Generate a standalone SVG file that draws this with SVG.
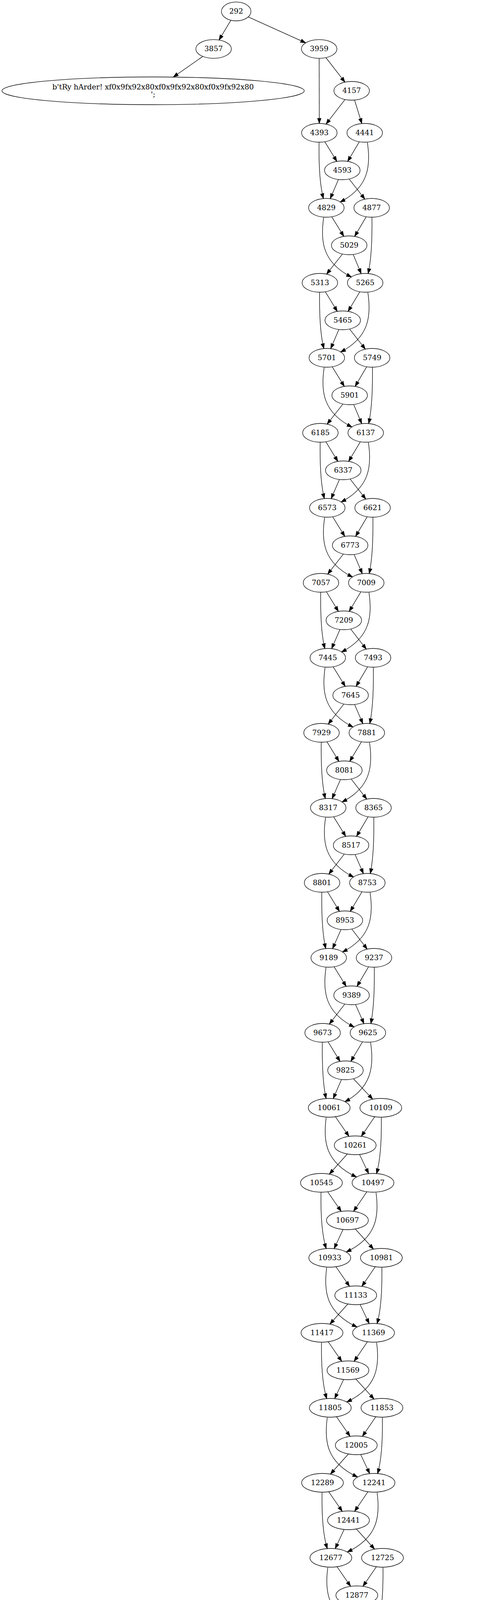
<svg xmlns="http://www.w3.org/2000/svg" width="1288" height="6538" viewBox="0 0 1288 6538">
<style>
.n ellipse{fill:none;stroke:#000;stroke-width:1.33}
.n text{font-family:"DejaVu Serif","Liberation Serif",serif;font-size:18.67px;text-anchor:middle;fill:#000}
#connectors path{fill:none;stroke:#000;stroke-width:1.33;marker-end:url(#ah)}
</style>
<defs>
<marker id="ah" markerUnits="userSpaceOnUse" markerWidth="15" markerHeight="11" viewBox="0 0 15 11" refX="13.5" refY="5.5" orient="auto"><path d="M0.5,0.9 L13.5,5.5 L0.5,10.1 Z" fill="#000" stroke="#000" stroke-width="1"/></marker>
</defs>
<rect width="1288" height="6538" fill="#fff"/>
<g id="connectors">
<path d="M591.2,51.9 L560.8,102.4"/>
<path d="M635.7,43.3 L782.7,109.7"/>
<path d="M519.4,144.4 L443.7,197.3"/>
<path d="M817.3,149.5 L817.6,316"/>
<path d="M834.5,147.5 L883.3,210.3"/>
<path d="M883.3,254.8 L834.9,317.7"/>
<path d="M907.9,256.2 L926.5,316.3"/>
<path d="M831.6,362.8 L862.6,413.2"/>
<path d="M920.2,362.8 L890.2,413.2"/>
<path d="M817,364.5 C816.2,420 819.2,475 828.2,508.5"/>
<path d="M940.7,364.6 C949.9,425 943.9,480 870.7,517.3"/>
<path d="M866.6,459.4 L845.6,508.6"/>
<path d="M893.9,458.2 L934.3,509.8"/>
<path d="M849.4,554.8 L880.5,605.2"/>
<path d="M937.8,554.8 L908.1,605.2"/>
<path d="M952.4,556.5 C953.2,612 950.2,667 942.6,700.5"/>
<path d="M828.9,556.6 C819.7,617 825.7,672 900.1,709.3"/>
<path d="M877.1,650.2 L836.2,701.8"/>
<path d="M904.4,651.4 L924.9,700.6"/>
<path d="M833,746.8 L863.7,797.2"/>
<path d="M921.4,746.8 L891.3,797.2"/>
<path d="M818.4,748.5 C817.6,804 820.6,859 829.4,892.5"/>
<path d="M941.9,748.6 C951.1,809 945.1,864 871.9,901.3"/>
<path d="M867.7,843.4 L846.8,892.6"/>
<path d="M895,842.2 L935.5,893.8"/>
<path d="M850.6,938.8 L881.7,989.2"/>
<path d="M939,938.8 L909.3,989.2"/>
<path d="M953.6,940.5 C954.4,996 951.4,1051 944,1084.5"/>
<path d="M830.1,940.6 C820.9,1001 826.9,1056 901.5,1093.3"/>
<path d="M878.3,1034.2 L837.6,1085.8"/>
<path d="M905.6,1035.4 L926.3,1084.6"/>
<path d="M834.4,1130.8 L865.1,1181.2"/>
<path d="M922.8,1130.8 L892.7,1181.2"/>
<path d="M819.8,1132.5 C819,1188 822,1243 830.6,1276.5"/>
<path d="M943.3,1132.6 C952.5,1193 946.5,1248 873.1,1285.3"/>
<path d="M869.1,1227.4 L848,1276.6"/>
<path d="M896.4,1226.2 L936.7,1277.8"/>
<path d="M851.8,1322.8 L882.9,1373.2"/>
<path d="M940.2,1322.8 L910.5,1373.2"/>
<path d="M954.8,1324.5 C955.6,1380 952.6,1435 945.4,1468.5"/>
<path d="M831.3,1324.6 C822.1,1385 828.1,1440 902.9,1477.3"/>
<path d="M879.5,1418.2 L839,1469.8"/>
<path d="M906.8,1419.4 L927.7,1468.6"/>
<path d="M835.8,1514.8 L866.5,1565.2"/>
<path d="M924.2,1514.8 L894.1,1565.2"/>
<path d="M821.2,1516.5 C820.4,1572 823.4,1627 831.8,1660.5"/>
<path d="M944.7,1516.6 C953.9,1577 947.9,1632 874.3,1669.3"/>
<path d="M870.5,1611.4 L849.2,1660.6"/>
<path d="M897.8,1610.2 L937.9,1661.8"/>
<path d="M853,1706.8 L884.1,1757.2"/>
<path d="M941.4,1706.8 L911.7,1757.2"/>
<path d="M956,1708.5 C956.8,1764 953.8,1819 946.8,1852.5"/>
<path d="M832.5,1708.6 C823.3,1769 829.3,1824 904.3,1861.3"/>
<path d="M880.7,1802.2 L840.4,1853.8"/>
<path d="M908,1803.4 L929.1,1852.6"/>
<path d="M837.2,1898.8 L867.9,1949.2"/>
<path d="M925.6,1898.8 L895.5,1949.2"/>
<path d="M822.6,1900.5 C821.8,1956 824.8,2011 833,2044.5"/>
<path d="M946.1,1900.6 C955.3,1961 949.3,2016 875.5,2053.3"/>
<path d="M871.9,1995.4 L850.4,2044.6"/>
<path d="M899.2,1994.2 L939.1,2045.8"/>
<path d="M854.2,2090.8 L885.3,2141.2"/>
<path d="M942.6,2090.8 L912.9,2141.2"/>
<path d="M957.2,2092.5 C958,2148 955,2203 948.2,2236.5"/>
<path d="M833.7,2092.6 C824.5,2153 830.5,2208 905.7,2245.3"/>
<path d="M881.9,2186.2 L841.8,2237.8"/>
<path d="M909.2,2187.4 L930.5,2236.6"/>
<path d="M838.6,2282.8 L869.3,2333.2"/>
<path d="M927,2282.8 L896.9,2333.2"/>
<path d="M824,2284.5 C823.2,2340 826.2,2395 834.2,2428.5"/>
<path d="M947.5,2284.6 C956.7,2345 950.7,2400 876.7,2437.3"/>
<path d="M873.3,2379.4 L851.6,2428.6"/>
<path d="M900.6,2378.2 L940.3,2429.8"/>
<path d="M855.4,2474.8 L886.5,2525.2"/>
<path d="M943.8,2474.8 L914.1,2525.2"/>
<path d="M958.4,2476.5 C959.2,2532 956.2,2587 949.6,2620.5"/>
<path d="M834.9,2476.6 C825.7,2537 831.7,2592 907.1,2629.3"/>
<path d="M883.1,2570.2 L843.2,2621.8"/>
<path d="M910.4,2571.4 L931.9,2620.6"/>
<path d="M840,2666.8 L870.7,2717.2"/>
<path d="M928.4,2666.8 L898.3,2717.2"/>
<path d="M825.4,2668.5 C824.6,2724 827.6,2779 835,2812.5"/>
<path d="M948.9,2668.6 C958.1,2729 952.1,2784 883,2820.5"/>
<path d="M874.5,2763.4 L853.2,2812.4"/>
<path d="M904.9,2761.5 L954.3,2813.9"/>
<path d="M858.9,2858.9 L893.6,2909.1"/>
<path d="M959.5,2858.9 L925.2,2909.1"/>
<path d="M976.4,2861 C977.2,2916 973.7,2971 964.1,3004.7"/>
<path d="M835.2,2861 C827,2921 833,2976 913.1,3013.2"/>
<path d="M889.3,2954.2 L843.3,3005.8"/>
<path d="M920.7,2955.5 L943.9,3004.5"/>
<path d="M839,3050.9 L873.7,3101.1"/>
<path d="M939.4,3050.9 L905.3,3101.1"/>
<path d="M821.9,3053 C821.1,3108 824.6,3163 835.4,3196.7"/>
<path d="M962.9,3053 C971.1,3113 965.1,3168 886.4,3205.2"/>
<path d="M878.4,3147.5 L855.6,3196.5"/>
<path d="M909.8,3146.2 L956.4,3197.8"/>
<path d="M860.3,3242.9 L895,3293.1"/>
<path d="M960.9,3242.9 L926.6,3293.1"/>
<path d="M977.8,3245 C978.6,3300 975.1,3355 965.5,3388.7"/>
<path d="M836.6,3245 C828.4,3305 834.4,3360 914.5,3397.2"/>
<path d="M890.7,3338.2 L844.7,3389.8"/>
<path d="M922.1,3339.5 L945.3,3388.5"/>
<path d="M840.4,3434.9 L875.1,3485.1"/>
<path d="M940.8,3434.9 L906.7,3485.1"/>
<path d="M823.3,3437 C822.5,3492 826,3547 836.8,3580.7"/>
<path d="M964.3,3437 C972.5,3497 966.5,3552 887.8,3589.2"/>
<path d="M879.8,3531.5 L857,3580.5"/>
<path d="M911.2,3530.2 L957.8,3581.8"/>
<path d="M861.7,3626.9 L896.4,3677.1"/>
<path d="M962.3,3626.9 L928,3677.1"/>
<path d="M979.2,3629 C980,3684 976.5,3739 966.8,3772.7"/>
<path d="M838,3629 C829.8,3689 835.8,3744 915.8,3781.2"/>
<path d="M892.1,3722.2 L846,3773.8"/>
<path d="M923.5,3723.5 L946.6,3772.5"/>
<path d="M841.7,3818.9 L876.4,3869.1"/>
<path d="M942.1,3818.9 L908,3869.1"/>
<path d="M824.6,3821 C823.8,3876 827.3,3931 838.2,3964.7"/>
<path d="M965.6,3821 C973.8,3881 967.8,3936 889.2,3973.2"/>
<path d="M881.1,3915.5 L858.4,3964.5"/>
<path d="M912.5,3914.2 L959.2,3965.8"/>
<path d="M863.1,4010.9 L897.8,4061.1"/>
<path d="M963.7,4010.9 L929.4,4061.1"/>
<path d="M980.6,4013 C981.4,4068 977.9,4123 968.2,4156.7"/>
<path d="M839.4,4013 C831.2,4073 837.2,4128 917.2,4165.2"/>
<path d="M893.5,4106.2 L847.4,4157.8"/>
<path d="M924.9,4107.5 L948,4156.5"/>
<path d="M843.1,4202.9 L877.8,4253.1"/>
<path d="M943.5,4202.9 L909.4,4253.1"/>
<path d="M826,4205 C825.2,4260 828.7,4315 839.6,4348.7"/>
<path d="M967,4205 C975.2,4265 969.2,4320 890.6,4357.2"/>
<path d="M882.5,4299.5 L859.8,4348.5"/>
<path d="M913.9,4298.2 L960.6,4349.8"/>
<path d="M864.5,4394.9 L899.2,4445.1"/>
<path d="M965.1,4394.9 L930.8,4445.1"/>
<path d="M982,4397 C982.8,4452 979.3,4507 969.5,4540.7"/>
<path d="M840.8,4397 C832.6,4457 838.6,4512 918.5,4549.2"/>
<path d="M894.9,4490.2 L848.7,4541.8"/>
<path d="M926.3,4491.5 L949.3,4540.5"/>
<path d="M844.4,4586.9 L879.1,4637.1"/>
<path d="M944.8,4586.9 L910.7,4637.1"/>
<path d="M827.3,4589 C826.5,4644 830,4699 841,4732.7"/>
<path d="M968.3,4589 C976.5,4649 970.5,4704 892,4741.2"/>
<path d="M883.8,4683.5 L861.2,4732.5"/>
<path d="M915.2,4682.2 L962,4733.8"/>
<path d="M865.9,4778.9 L900.6,4829.1"/>
<path d="M966.5,4778.9 L932.2,4829.1"/>
<path d="M983.4,4781 C984.2,4836 980.7,4891 970.9,4924.7"/>
<path d="M842.2,4781 C834,4841 840,4896 919.9,4933.2"/>
<path d="M896.3,4874.2 L850.1,4925.8"/>
<path d="M927.7,4875.5 L950.7,4924.5"/>
<path d="M845.8,4970.9 L880.5,5021.1"/>
<path d="M946.2,4970.9 L912.1,5021.1"/>
<path d="M828.7,4973 C827.9,5028 831.4,5083 842.4,5116.7"/>
<path d="M969.7,4973 C977.9,5033 971.9,5088 893.4,5125.2"/>
<path d="M885.2,5067.5 L862.6,5116.5"/>
<path d="M916.6,5066.2 L963.4,5117.8"/>
<path d="M867.3,5162.9 L902,5213.1"/>
<path d="M967.9,5162.9 L933.6,5213.1"/>
<path d="M984.8,5165 C985.6,5220 982.1,5275 972.2,5308.7"/>
<path d="M843.6,5165 C835.4,5225 841.4,5280 921.2,5317.2"/>
<path d="M897.7,5258.2 L851.4,5309.8"/>
<path d="M929.1,5259.5 L952,5308.5"/>
<path d="M847.1,5354.9 L881.8,5405.1"/>
<path d="M947.5,5354.9 L913.4,5405.1"/>
<path d="M830,5357 C829.2,5412 832.7,5467 843.8,5500.7"/>
<path d="M971,5357 C979.2,5417 973.2,5472 894.8,5509.2"/>
<path d="M886.5,5451.5 L864,5500.5"/>
<path d="M917.9,5450.2 L964.8,5501.8"/>
<path d="M868.7,5546.9 L903.4,5597.1"/>
<path d="M969.3,5546.9 L935,5597.1"/>
<path d="M986.2,5549 C987,5604 983.5,5659 973.6,5692.7"/>
<path d="M845,5549 C836.8,5609 842.8,5664 922.6,5701.2"/>
<path d="M899.1,5642.2 L852.8,5693.8"/>
<path d="M930.5,5643.5 L953.4,5692.5"/>
<path d="M848.5,5738.9 L883.2,5789.1"/>
<path d="M948.9,5738.9 L914.8,5789.1"/>
<path d="M831.4,5741 C830.6,5796 834.1,5851 845.2,5884.7"/>
<path d="M972.4,5741 C980.6,5801 974.6,5856 896.2,5893.2"/>
<path d="M887.9,5835.5 L865.4,5884.5"/>
<path d="M919.3,5834.2 L966.2,5885.8"/>
<path d="M870.1,5930.9 L904.8,5981.1"/>
<path d="M970.7,5930.9 L936.4,5981.1"/>
<path d="M987.6,5933 C988.4,5988 984.9,6043 974.9,6076.7"/>
<path d="M846.4,5933 C838.2,5993 844.2,6048 923.9,6085.2"/>
<path d="M900.5,6026.2 L854.1,6077.8"/>
<path d="M931.9,6027.5 L954.7,6076.5"/>
<path d="M849.8,6122.9 L884.5,6173.1"/>
<path d="M950.2,6122.9 L916.1,6173.1"/>
<path d="M826.1,6125 C817.9,6185 823.9,6240 904.4,6277.2"/>
<path d="M967.1,6125 C967.9,6180 964.4,6235 955.4,6268.7"/>
<path d="M880.3,6218.2 L834.1,6269.8"/>
<path d="M911.6,6219.5 L935.2,6268.5"/>
<path d="M814,6316 L814,6364"/>
<path d="M842.2,6312.4 L918.3,6367.6"/>
<path d="M918.3,6312.4 L842.2,6367.6"/>
<path d="M946.4,6316 L946.4,6364"/>
<path d="M783.6,6407.7 L702,6461"/>
<path d="M976.9,6407.7 L1077.5,6472.3"/>
</g>
<g id="n292" class="n"><ellipse cx="604.8" cy="29.3" rx="37.8" ry="24.2"/><text x="604.8" y="34.9">292</text></g>
<g id="n3857" class="n"><ellipse cx="547" cy="125.3" rx="45.5" ry="24"/><text x="547" y="130.9">3857</text></g>
<g id="n3959" class="n"><ellipse cx="817.3" cy="125.3" rx="45.5" ry="24"/><text x="817.3" y="130.9">3959</text></g>
<g id="nTryHarder" class="n"><ellipse cx="392" cy="232.5" rx="387" ry="35.5"/><text x="392" y="228.5">b'tRy hArder! xf0x9fx92x80xf0x9fx92x80xf0x9fx92x80</text><text x="392" y="248">';</text></g>
<g id="n4157" class="n"><ellipse cx="900.5" cy="232.5" rx="45.5" ry="24"/><text x="900.5" y="238.1">4157</text></g>
<g id="n4393" class="n"><ellipse cx="817.7" cy="340" rx="45.5" ry="24"/><text x="817.7" y="345.6">4393</text></g>
<g id="n4441" class="n"><ellipse cx="933.9" cy="340" rx="45.5" ry="24"/><text x="933.9" y="345.6">4441</text></g>
<g id="n4593" class="n"><ellipse cx="876.5" cy="436" rx="45.5" ry="24"/><text x="876.5" y="441.6">4593</text></g>
<g id="n4829" class="n"><ellipse cx="835.7" cy="532" rx="45.5" ry="24"/><text x="835.7" y="537.6">4829</text></g>
<g id="n4877" class="n"><ellipse cx="951.7" cy="532" rx="45.5" ry="24"/><text x="951.7" y="537.6">4877</text></g>
<g id="n5029" class="n"><ellipse cx="894.2" cy="628" rx="45.5" ry="24"/><text x="894.2" y="633.6">5029</text></g>
<g id="n5313" class="n"><ellipse cx="819.1" cy="724" rx="45.5" ry="24"/><text x="819.1" y="729.6">5313</text></g>
<g id="n5265" class="n"><ellipse cx="935.1" cy="724" rx="45.5" ry="24"/><text x="935.1" y="729.6">5265</text></g>
<g id="n5465" class="n"><ellipse cx="877.6" cy="820" rx="45.5" ry="24"/><text x="877.6" y="825.6">5465</text></g>
<g id="n5701" class="n"><ellipse cx="836.9" cy="916" rx="45.5" ry="24"/><text x="836.9" y="921.6">5701</text></g>
<g id="n5749" class="n"><ellipse cx="952.9" cy="916" rx="45.5" ry="24"/><text x="952.9" y="921.6">5749</text></g>
<g id="n5901" class="n"><ellipse cx="895.4" cy="1012" rx="45.5" ry="24"/><text x="895.4" y="1017.6">5901</text></g>
<g id="n6185" class="n"><ellipse cx="820.5" cy="1108" rx="45.5" ry="24"/><text x="820.5" y="1113.6">6185</text></g>
<g id="n6137" class="n"><ellipse cx="936.5" cy="1108" rx="45.5" ry="24"/><text x="936.5" y="1113.6">6137</text></g>
<g id="n6337" class="n"><ellipse cx="879" cy="1204" rx="45.5" ry="24"/><text x="879" y="1209.6">6337</text></g>
<g id="n6573" class="n"><ellipse cx="838.1" cy="1300" rx="45.5" ry="24"/><text x="838.1" y="1305.6">6573</text></g>
<g id="n6621" class="n"><ellipse cx="954.1" cy="1300" rx="45.5" ry="24"/><text x="954.1" y="1305.6">6621</text></g>
<g id="n6773" class="n"><ellipse cx="896.6" cy="1396" rx="45.5" ry="24"/><text x="896.6" y="1401.6">6773</text></g>
<g id="n7057" class="n"><ellipse cx="821.9" cy="1492" rx="45.5" ry="24"/><text x="821.9" y="1497.6">7057</text></g>
<g id="n7009" class="n"><ellipse cx="937.9" cy="1492" rx="45.5" ry="24"/><text x="937.9" y="1497.6">7009</text></g>
<g id="n7209" class="n"><ellipse cx="880.4" cy="1588" rx="45.5" ry="24"/><text x="880.4" y="1593.6">7209</text></g>
<g id="n7445" class="n"><ellipse cx="839.3" cy="1684" rx="45.5" ry="24"/><text x="839.3" y="1689.6">7445</text></g>
<g id="n7493" class="n"><ellipse cx="955.3" cy="1684" rx="45.5" ry="24"/><text x="955.3" y="1689.6">7493</text></g>
<g id="n7645" class="n"><ellipse cx="897.8" cy="1780" rx="45.5" ry="24"/><text x="897.8" y="1785.6">7645</text></g>
<g id="n7929" class="n"><ellipse cx="823.3" cy="1876" rx="45.5" ry="24"/><text x="823.3" y="1881.6">7929</text></g>
<g id="n7881" class="n"><ellipse cx="939.3" cy="1876" rx="45.5" ry="24"/><text x="939.3" y="1881.6">7881</text></g>
<g id="n8081" class="n"><ellipse cx="881.8" cy="1972" rx="45.5" ry="24"/><text x="881.8" y="1977.6">8081</text></g>
<g id="n8317" class="n"><ellipse cx="840.5" cy="2068" rx="45.5" ry="24"/><text x="840.5" y="2073.6">8317</text></g>
<g id="n8365" class="n"><ellipse cx="956.5" cy="2068" rx="45.5" ry="24"/><text x="956.5" y="2073.6">8365</text></g>
<g id="n8517" class="n"><ellipse cx="899" cy="2164" rx="45.5" ry="24"/><text x="899" y="2169.6">8517</text></g>
<g id="n8801" class="n"><ellipse cx="824.7" cy="2260" rx="45.5" ry="24"/><text x="824.7" y="2265.6">8801</text></g>
<g id="n8753" class="n"><ellipse cx="940.7" cy="2260" rx="45.5" ry="24"/><text x="940.7" y="2265.6">8753</text></g>
<g id="n8953" class="n"><ellipse cx="883.2" cy="2356" rx="45.5" ry="24"/><text x="883.2" y="2361.6">8953</text></g>
<g id="n9189" class="n"><ellipse cx="841.7" cy="2452" rx="45.5" ry="24"/><text x="841.7" y="2457.6">9189</text></g>
<g id="n9237" class="n"><ellipse cx="957.7" cy="2452" rx="45.5" ry="24"/><text x="957.7" y="2457.6">9237</text></g>
<g id="n9389" class="n"><ellipse cx="900.2" cy="2548" rx="45.5" ry="24"/><text x="900.2" y="2553.6">9389</text></g>
<g id="n9673" class="n"><ellipse cx="826.1" cy="2644" rx="45.5" ry="24"/><text x="826.1" y="2649.6">9673</text></g>
<g id="n9625" class="n"><ellipse cx="942.1" cy="2644" rx="45.5" ry="24"/><text x="942.1" y="2649.6">9625</text></g>
<g id="n9825" class="n"><ellipse cx="884.6" cy="2740" rx="45.5" ry="24"/><text x="884.6" y="2745.6">9825</text></g>
<g id="n10061" class="n"><ellipse cx="843" cy="2836" rx="53.5" ry="24"/><text x="843" y="2841.6">10061</text></g>
<g id="n10109" class="n"><ellipse cx="975.2" cy="2836" rx="53.5" ry="24"/><text x="975.2" y="2841.6">10109</text></g>
<g id="n10261" class="n"><ellipse cx="909.5" cy="2932" rx="53.5" ry="24"/><text x="909.5" y="2937.6">10261</text></g>
<g id="n10545" class="n"><ellipse cx="823.1" cy="3028" rx="53.5" ry="24"/><text x="823.1" y="3033.6">10545</text></g>
<g id="n10497" class="n"><ellipse cx="955.1" cy="3028" rx="53.5" ry="24"/><text x="955.1" y="3033.6">10497</text></g>
<g id="n10697" class="n"><ellipse cx="889.6" cy="3124" rx="53.5" ry="24"/><text x="889.6" y="3129.6">10697</text></g>
<g id="n10933" class="n"><ellipse cx="844.4" cy="3220" rx="53.5" ry="24"/><text x="844.4" y="3225.6">10933</text></g>
<g id="n10981" class="n"><ellipse cx="976.6" cy="3220" rx="53.5" ry="24"/><text x="976.6" y="3225.6">10981</text></g>
<g id="n11133" class="n"><ellipse cx="910.9" cy="3316" rx="53.5" ry="24"/><text x="910.9" y="3321.6">11133</text></g>
<g id="n11417" class="n"><ellipse cx="824.5" cy="3412" rx="53.5" ry="24"/><text x="824.5" y="3417.6">11417</text></g>
<g id="n11369" class="n"><ellipse cx="956.5" cy="3412" rx="53.5" ry="24"/><text x="956.5" y="3417.6">11369</text></g>
<g id="n11569" class="n"><ellipse cx="891" cy="3508" rx="53.5" ry="24"/><text x="891" y="3513.6">11569</text></g>
<g id="n11805" class="n"><ellipse cx="845.8" cy="3604" rx="53.5" ry="24"/><text x="845.8" y="3609.6">11805</text></g>
<g id="n11853" class="n"><ellipse cx="978" cy="3604" rx="53.5" ry="24"/><text x="978" y="3609.6">11853</text></g>
<g id="n12005" class="n"><ellipse cx="912.3" cy="3700" rx="53.5" ry="24"/><text x="912.3" y="3705.6">12005</text></g>
<g id="n12289" class="n"><ellipse cx="825.8" cy="3796" rx="53.5" ry="24"/><text x="825.8" y="3801.6">12289</text></g>
<g id="n12241" class="n"><ellipse cx="957.8" cy="3796" rx="53.5" ry="24"/><text x="957.8" y="3801.6">12241</text></g>
<g id="n12441" class="n"><ellipse cx="892.3" cy="3892" rx="53.5" ry="24"/><text x="892.3" y="3897.6">12441</text></g>
<g id="n12677" class="n"><ellipse cx="847.2" cy="3988" rx="53.5" ry="24"/><text x="847.2" y="3993.6">12677</text></g>
<g id="n12725" class="n"><ellipse cx="979.4" cy="3988" rx="53.5" ry="24"/><text x="979.4" y="3993.6">12725</text></g>
<g id="n12877" class="n"><ellipse cx="913.7" cy="4084" rx="53.5" ry="24"/><text x="913.7" y="4089.6">12877</text></g>
<g id="n13161" class="n"><ellipse cx="827.2" cy="4180" rx="53.5" ry="24"/><text x="827.2" y="4185.6">13161</text></g>
<g id="n13113" class="n"><ellipse cx="959.2" cy="4180" rx="53.5" ry="24"/><text x="959.2" y="4185.6">13113</text></g>
<g id="n13313" class="n"><ellipse cx="893.7" cy="4276" rx="53.5" ry="24"/><text x="893.7" y="4281.6">13313</text></g>
<g id="n13549" class="n"><ellipse cx="848.6" cy="4372" rx="53.5" ry="24"/><text x="848.6" y="4377.6">13549</text></g>
<g id="n13597" class="n"><ellipse cx="980.8" cy="4372" rx="53.5" ry="24"/><text x="980.8" y="4377.6">13597</text></g>
<g id="n13749" class="n"><ellipse cx="915.1" cy="4468" rx="53.5" ry="24"/><text x="915.1" y="4473.6">13749</text></g>
<g id="n14033" class="n"><ellipse cx="828.5" cy="4564" rx="53.5" ry="24"/><text x="828.5" y="4569.6">14033</text></g>
<g id="n13985" class="n"><ellipse cx="960.5" cy="4564" rx="53.5" ry="24"/><text x="960.5" y="4569.6">13985</text></g>
<g id="n14185" class="n"><ellipse cx="895" cy="4660" rx="53.5" ry="24"/><text x="895" y="4665.6">14185</text></g>
<g id="n14421" class="n"><ellipse cx="850" cy="4756" rx="53.5" ry="24"/><text x="850" y="4761.6">14421</text></g>
<g id="n14469" class="n"><ellipse cx="982.2" cy="4756" rx="53.5" ry="24"/><text x="982.2" y="4761.6">14469</text></g>
<g id="n14621" class="n"><ellipse cx="916.5" cy="4852" rx="53.5" ry="24"/><text x="916.5" y="4857.6">14621</text></g>
<g id="n14905" class="n"><ellipse cx="829.9" cy="4948" rx="53.5" ry="24"/><text x="829.9" y="4953.6">14905</text></g>
<g id="n14857" class="n"><ellipse cx="961.9" cy="4948" rx="53.5" ry="24"/><text x="961.9" y="4953.6">14857</text></g>
<g id="n15057" class="n"><ellipse cx="896.4" cy="5044" rx="53.5" ry="24"/><text x="896.4" y="5049.6">15057</text></g>
<g id="n15293" class="n"><ellipse cx="851.4" cy="5140" rx="53.5" ry="24"/><text x="851.4" y="5145.6">15293</text></g>
<g id="n15341" class="n"><ellipse cx="983.6" cy="5140" rx="53.5" ry="24"/><text x="983.6" y="5145.6">15341</text></g>
<g id="n15493" class="n"><ellipse cx="917.9" cy="5236" rx="53.5" ry="24"/><text x="917.9" y="5241.6">15493</text></g>
<g id="n15777" class="n"><ellipse cx="831.2" cy="5332" rx="53.5" ry="24"/><text x="831.2" y="5337.6">15777</text></g>
<g id="n15729" class="n"><ellipse cx="963.2" cy="5332" rx="53.5" ry="24"/><text x="963.2" y="5337.6">15729</text></g>
<g id="n15929" class="n"><ellipse cx="897.7" cy="5428" rx="53.5" ry="24"/><text x="897.7" y="5433.6">15929</text></g>
<g id="n16165" class="n"><ellipse cx="852.8" cy="5524" rx="53.5" ry="24"/><text x="852.8" y="5529.6">16165</text></g>
<g id="n16213" class="n"><ellipse cx="985" cy="5524" rx="53.5" ry="24"/><text x="985" y="5529.6">16213</text></g>
<g id="n16365" class="n"><ellipse cx="919.3" cy="5620" rx="53.5" ry="24"/><text x="919.3" y="5625.6">16365</text></g>
<g id="n16649" class="n"><ellipse cx="832.6" cy="5716" rx="53.5" ry="24"/><text x="832.6" y="5721.6">16649</text></g>
<g id="n16601" class="n"><ellipse cx="964.6" cy="5716" rx="53.5" ry="24"/><text x="964.6" y="5721.6">16601</text></g>
<g id="n16801" class="n"><ellipse cx="899.1" cy="5812" rx="53.5" ry="24"/><text x="899.1" y="5817.6">16801</text></g>
<g id="n17037" class="n"><ellipse cx="854.2" cy="5908" rx="53.5" ry="24"/><text x="854.2" y="5913.6">17037</text></g>
<g id="n17085" class="n"><ellipse cx="986.4" cy="5908" rx="53.5" ry="24"/><text x="986.4" y="5913.6">17085</text></g>
<g id="n17237" class="n"><ellipse cx="920.7" cy="6004" rx="53.5" ry="24"/><text x="920.7" y="6009.6">17237</text></g>
<g id="n17521" class="n"><ellipse cx="833.9" cy="6100" rx="53.5" ry="24"/><text x="833.9" y="6105.6">17521</text></g>
<g id="n17473" class="n"><ellipse cx="965.9" cy="6100" rx="53.5" ry="24"/><text x="965.9" y="6105.6">17473</text></g>
<g id="n17673" class="n"><ellipse cx="900.4" cy="6196" rx="53.5" ry="24"/><text x="900.4" y="6201.6">17673</text></g>
<g id="n17957" class="n"><ellipse cx="814" cy="6292" rx="53.5" ry="24"/><text x="814" y="6297.6">17957</text></g>
<g id="n17909" class="n"><ellipse cx="946.4" cy="6292" rx="53.5" ry="24"/><text x="946.4" y="6297.6">17909</text></g>
<g id="n18099" class="n"><ellipse cx="814" cy="6388" rx="53.5" ry="24"/><text x="814" y="6393.6">18099</text></g>
<g id="n18201" class="n"><ellipse cx="946.4" cy="6388" rx="53.5" ry="24"/><text x="946.4" y="6393.6">18201</text></g>
<g id="nGottaGoCyclic" class="n"><ellipse cx="647" cy="6496" rx="271.4" ry="35.5"/><text x="647" y="6491">b'Gotta go cyclic xe2x99xbbxefxb8x8f</text><text x="647" y="6510.5">';</text></g>
<g id="nFlag" class="n"><ellipse cx="1112.7" cy="6496" rx="169.8" ry="24"/><text x="1112.7" y="6501.6">b'Thats the flag: CSCG{';</text></g>
</svg>
